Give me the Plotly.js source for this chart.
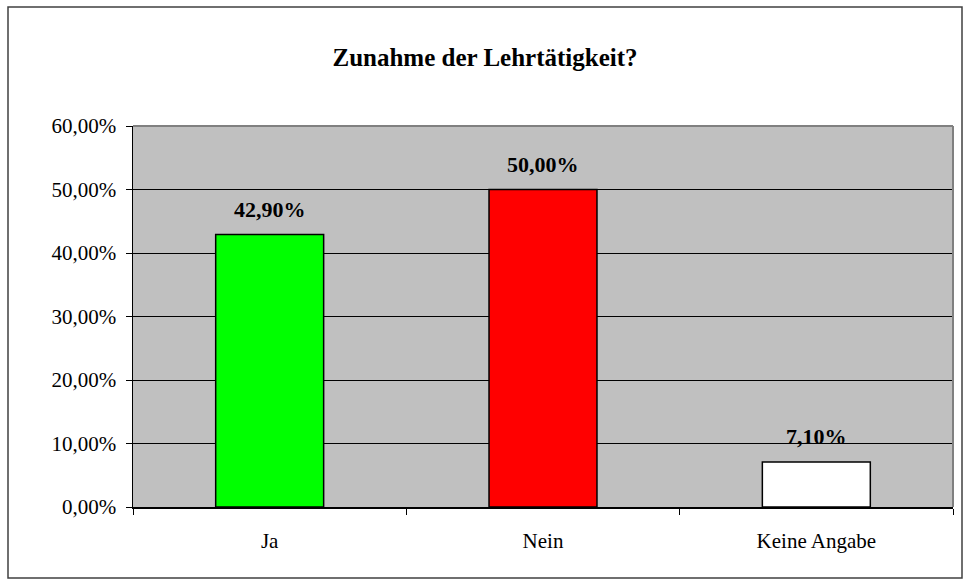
<!DOCTYPE html>
<html>
<head>
<meta charset="utf-8">
<script src="https://cdn.plot.ly/plotly-3.0.1.min.js"></script>
<style>
html,body{margin:0;padding:0;background:#fff;}
#chart{width:970px;height:586px;}
</style>
</head>
<body>
<div id="chart"></div>
<script>
const categories = ["Ja", "Nein", "Keine Angabe"];
const values = [0.429, 0.500, 0.071];
const barColors = ["#00ff00", "#ff0000", "#ffffff"];
const yTickVals = [0, 0.1, 0.2, 0.3, 0.4, 0.5, 0.6];

const FONT = '"Liberation Serif", "Times New Roman", Times, serif';
const W = 970, H = 586;
const L = 133, R = 17, T = 126, B = 79;
const pw = W - L - R, ph = H - T - B;
function px(x){ return (x - L) / pw; }
function py(y){ return (H - B - y) / ph; }

const fmt = v => (v * 100).toFixed(2).replace('.', ',') + '%';

const trace = {
  type: 'bar',
  x: categories,
  y: values,
  width: 0.395,
  marker: {color: barColors, line: {color: '#000000', width: 1.5}},
  hoverinfo: 'none'
};

const annotations = categories.map((c, i) => ({
  x: c, y: values[i], xref: 'x', yref: 'y',
  text: '<b>' + fmt(values[i]) + '</b>', showarrow: false,
  yanchor: 'bottom', yshift: 11,
  font: {family: FONT, size: 22, color: '#000'}
}));

const layout = {
  width: W, height: H,
  margin: {l: L, r: R, t: T, b: B, pad: 0},
  paper_bgcolor: '#ffffff',
  plot_bgcolor: '#c0c0c0',
  separators: ',.',
  showlegend: false,
  font: {family: FONT, size: 21, color: '#000'},
  title: {
    text: '<b>Zunahme der Lehrtätigkeit?</b>',
    x: 0.5, xref: 'container', xanchor: 'center',
    y: 1 - 57 / H, yref: 'container', yanchor: 'middle',
    font: {family: FONT, size: 25, color: '#000'}
  },
  xaxis: {
    type: 'category',
    range: [-0.5, 2.5],
    tickson: 'boundaries',
    ticks: 'outside', ticklen: 6, tickwidth: 1, tickcolor: '#000',
    showline: true, linecolor: '#000', linewidth: 1.5,
    showgrid: false, zeroline: false,
    ticklabelstandoff: 14,
    tickfont: {family: FONT, size: 21}
  },
  yaxis: {
    range: [0, 0.6],
    tickvals: yTickVals,
    tickformat: '.2%',
    ticks: 'outside', ticklen: 6, tickwidth: 1, tickcolor: '#000',
    showline: true, linecolor: '#000', linewidth: 1.5,
    showgrid: true, gridcolor: '#000', gridwidth: 1,
    zeroline: false,
    ticklabelstandoff: 5,
    tickfont: {family: FONT, size: 21}
  },
  annotations: annotations,
  shapes: [
    {type: 'line', xref: 'paper', yref: 'paper', x0: 0, x1: 1, y0: 1, y1: 1,
     line: {color: '#808080', width: 2}},
    {type: 'line', xref: 'paper', yref: 'paper', x0: 1, x1: 1, y0: 0, y1: 1,
     line: {color: '#808080', width: 2}},
    {type: 'rect', xref: 'paper', yref: 'paper',
     x0: px(8), x1: px(962), y0: py(578), y1: py(7),
     line: {color: '#404040', width: 1.5}, fillcolor: 'rgba(0,0,0,0)'}
  ]
};

Plotly.newPlot('chart', [trace], layout, {displayModeBar: false, staticPlot: true});
</script>
</body>
</html>
